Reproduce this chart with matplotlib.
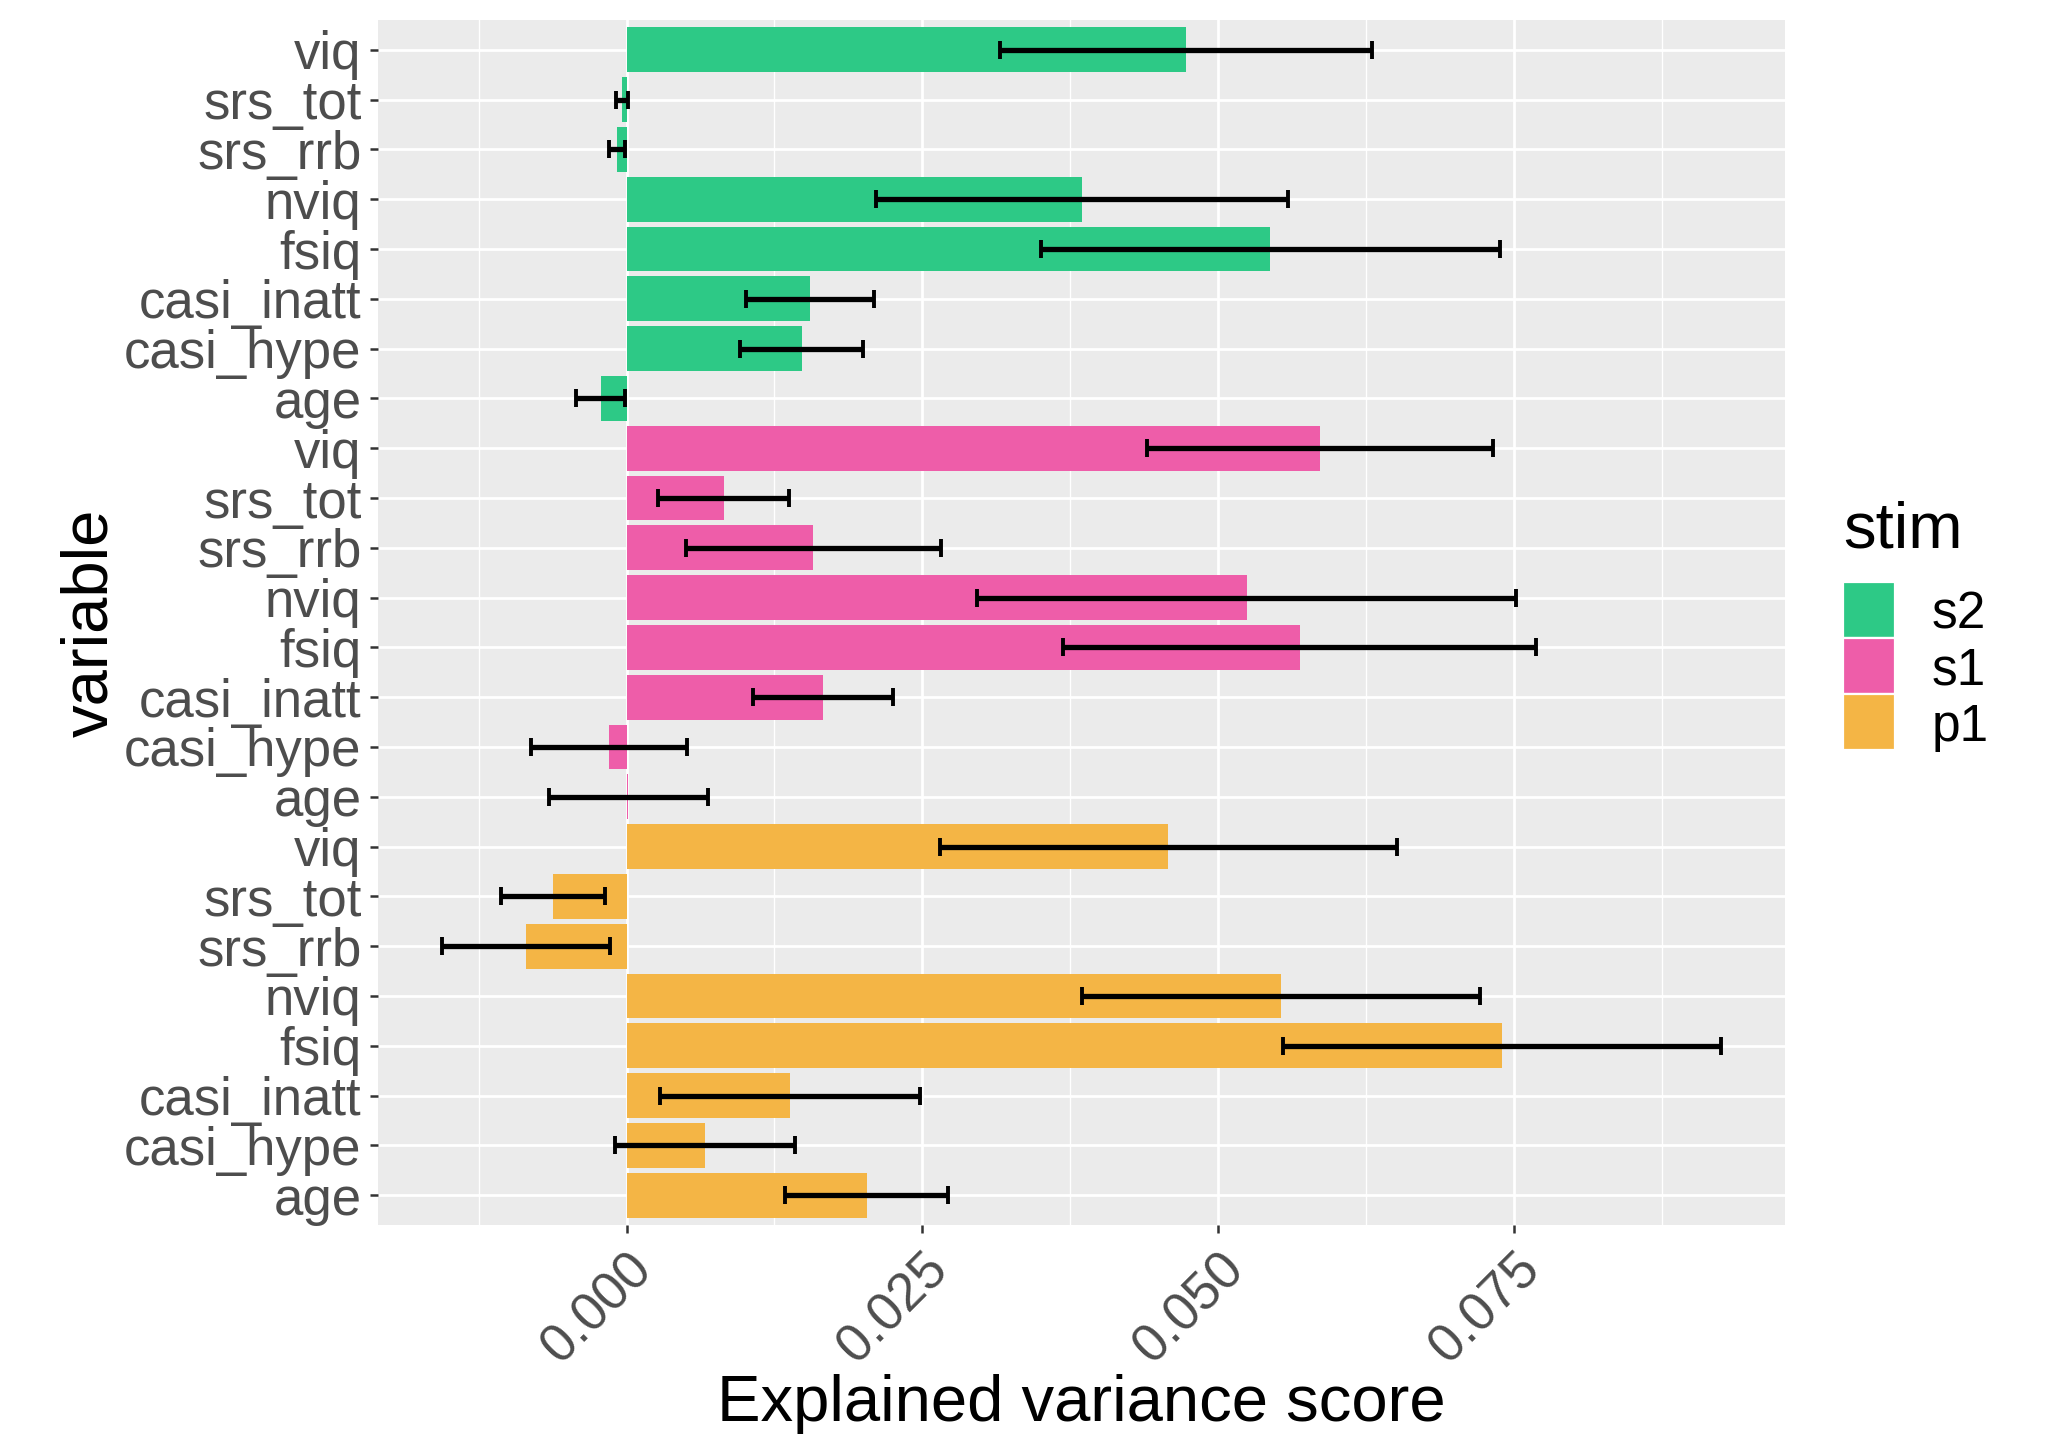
import matplotlib
matplotlib.use("Agg")
import matplotlib.pyplot as plt
from matplotlib.patches import Rectangle
import numpy as np

plt.rcParams['font.family'] = ['Liberation Sans', 'DejaVu Sans']

# ---- data ----
variables = ["viq", "srs_tot", "srs_rrb", "nviq", "fsiq", "casi_inatt", "casi_hype", "age"]
stims = ["s2", "s1", "p1"]
stim_colors = {"s2": "#2DC986", "s1": "#EE5DA9", "p1": "#F4B545"}

s2_values = [0.0473, -0.0004, -0.0008, 0.0385, 0.0544, 0.0155, 0.0148, -0.0022]
s2_errors = [0.0157, 0.0005, 0.00065, 0.0174, 0.0194, 0.0054, 0.0052, 0.0021]
s1_values = [0.0586, 0.0082, 0.0158, 0.0524, 0.0569, 0.0166, -0.0015, 0.00015]
s1_errors = [0.0146, 0.0055, 0.0108, 0.0228, 0.0200, 0.0059, 0.0066, 0.0067]
p1_values = [0.0458, -0.0062, -0.0085, 0.0553, 0.0740, 0.0138, 0.0066, 0.0203]
p1_errors = [0.0193, 0.0044, 0.0071, 0.0168, 0.0185, 0.0110, 0.0076, 0.0069]

x_ticks = [0.000, 0.025, 0.050, 0.075]
x_ticklabels = ["0.000", "0.025", "0.050", "0.075"]
x_minor = [-0.0125, 0.0125, 0.0375, 0.0625, 0.0875]

values = {"s2": s2_values, "s1": s1_values, "p1": p1_values}
errors = {"s2": s2_errors, "s1": s1_errors, "p1": p1_errors}

# ---- figure ----
W, H = 2061, 1435
DPI = 200
fig = plt.figure(figsize=(W / DPI, H / DPI), dpi=DPI)
fig.patch.set_facecolor("white")

def fx(px):
    return px / W

def fy(py_from_top):
    return 1 - py_from_top / H

ax_l, ax_r, ax_t, ax_b = 378, 1785, 20, 1225
ax = fig.add_axes([fx(ax_l), fy(ax_b), fx(ax_r - ax_l), (ax_b - ax_t) / H])
ax.set_facecolor("#EBEBEB")
for s in ax.spines.values():
    s.set_visible(False)

n = len(variables) * len(stims)
labels, ys, vals, errs, cols = [], [], [], [], []
i = 0
for st in stims:
    for v, val, err in zip(variables, values[st], errors[st]):
        labels.append(v)
        ys.append(n - 1 - i)
        vals.append(val)
        errs.append(err)
        cols.append(stim_colors[st])
        i += 1

ax.barh(ys, vals, height=0.9, color=cols, linewidth=0, zorder=3)
ax.errorbar(vals, ys, xerr=errs, fmt="none", ecolor="black", elinewidth=1.9,
            capsize=3.1, capthick=1.4, zorder=4)

lo = min(v - e for v, e in zip(vals, errs))
hi = max(v + e for v, e in zip(vals, errs))
pad = 0.05 * (hi - lo)
ax.set_xlim(lo - pad, hi + pad)
ax.set_ylim(-0.6, n - 1 + 0.6)

# grid
for xm in x_minor:
    ax.axvline(xm, color="white", linewidth=0.5, zorder=1)
for xt in x_ticks:
    ax.axvline(xt, color="white", linewidth=1.0, zorder=1)
for y in ys:
    ax.axhline(y, color="white", linewidth=1.0, zorder=1)

ax.set_yticks(ys)
ax.set_yticklabels(labels)
ax.set_xticks(x_ticks)
ax.set_xticklabels(x_ticklabels, rotation=45, ha="right", va="top", rotation_mode="anchor")
ax.tick_params(axis="both", colors="#333333", length=2.9, width=0.9,
               labelsize=19, labelcolor="#4D4D4D")
ax.tick_params(axis="y", pad=3)
ax.tick_params(axis="x", pad=4)

ax.set_xlabel("Explained variance score", fontsize=23.5, color="black", labelpad=0.5)
ax.set_ylabel("variable", fontsize=23.5, color="black", labelpad=1.5)

# legend (manual, ggplot style)
fig.text(fx(1843), fy(547), "stim", fontsize=23.5, color="black", ha="left", va="baseline")
key_top = 582
key_h = 56
key_w = 52
for k, st in enumerate(stims):
    top = key_top + k * key_h
    fig.add_artist(Rectangle((fx(1843), fy(top + key_h)), fx(key_w), key_h / H,
                             transform=fig.transFigure, facecolor=stim_colors[st],
                             edgecolor="white", linewidth=0.8))
    fig.text(fx(1932), fy(top + key_h / 2 + 5), st, fontsize=18.5, color="black",
             ha="left", va="center")

fig.savefig("out.png", dpi=DPI)
